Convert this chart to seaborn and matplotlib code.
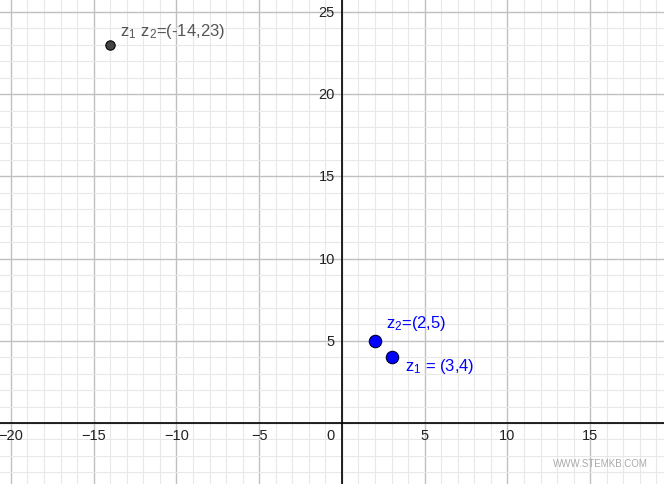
import numpy as np
import pandas as pd
import matplotlib.pyplot as plt
import seaborn as sns
from matplotlib.ticker import MultipleLocator

# punkte
px = [-14, 2, 3]
py = [23, 5, 4]
names = ["prod", "z2", "z1"]
labels = [r"$\mathregular{z_1\ z_2}$=(-14,23)", r"$\mathregular{z_2}$=(2,5)", r"$\mathregular{z_1}$ = (3,4)"]
xticks = [-20, -15, -10, -5, 5, 10, 15]
yticks = [5, 10, 15, 20, 25]

df = pd.DataFrame({"x": px, "y": py, "name": names})

sns.set_style("white")
plt.rcParams["font.family"] = ["Liberation Sans", "DejaVu Sans"]
plt.rcParams["mathtext.fontset"] = "custom"
plt.rcParams["mathtext.rm"] = "Liberation Sans"

fig = plt.figure(figsize=(6.64, 4.85), dpi=100)
ax = fig.add_axes([0, 0, 1, 1])
ax.set_xlim(-20.66, 19.46)
ax.set_ylim(-3.71, 25.78)

ax.xaxis.set_major_locator(MultipleLocator(5))
ax.yaxis.set_major_locator(MultipleLocator(5))
ax.xaxis.set_minor_locator(MultipleLocator(1))
ax.yaxis.set_minor_locator(MultipleLocator(1))
ax.grid(which="major", color="#c0c0c0", lw=1.0)
ax.grid(which="minor", color="#e8e8e8", lw=0.8)
ax.set_axisbelow(True)
ax.tick_params(which="both", length=0, labelbottom=False, labelleft=False)
for s in ax.spines.values():
    s.set_visible(False)

ax.axhline(0, color="black", lw=1.2, zorder=2)
ax.axvline(0, color="black", lw=1.2, zorder=2)

for t in xticks:
    ax.annotate(str(t).replace("-", "\u2212"), (t, 0), xytext=(0, -9), textcoords="offset points",
                ha="center", va="center", fontsize=10.5, color="#222222")
for t in yticks:
    ax.annotate(str(t), (0, t), xytext=(-5, 0), textcoords="offset points",
                ha="right", va="center", fontsize=10.5, color="#222222")
ax.annotate("0", (0, 0), xytext=(-8, -9), textcoords="offset points",
            ha="center", va="center", fontsize=10.5, color="#222222")

sns.scatterplot(data=df.iloc[:1], x="x", y="y", color="#444444", edgecolor="black",
                s=45, linewidth=0.8, ax=ax, zorder=5, legend=False)
sns.scatterplot(data=df.iloc[1:], x="x", y="y", color="#0000ff", edgecolor="#000033",
                s=80, linewidth=0.8, ax=ax, zorder=5, legend=False)

ax.annotate(labels[0], (px[0], py[0]), xytext=(7, 10), textcoords="offset points",
            fontsize=12, color="#555555", va="center")
ax.annotate(labels[1], (px[1], py[1]), xytext=(8, 13), textcoords="offset points",
            fontsize=12, color="#0000ff", va="center")
ax.annotate(labels[2], (px[2], py[2]), xytext=(10, -6), textcoords="offset points",
            fontsize=12, color="#0000ff", va="center")

ax.set_xlabel("")
ax.set_ylabel("")
fig.text(0.904, 0.043, "WWW.STEMKB.COM", fontsize=7, color="#aaaaaa", ha="center", va="center")

fig.savefig("out.png", dpi=100)
